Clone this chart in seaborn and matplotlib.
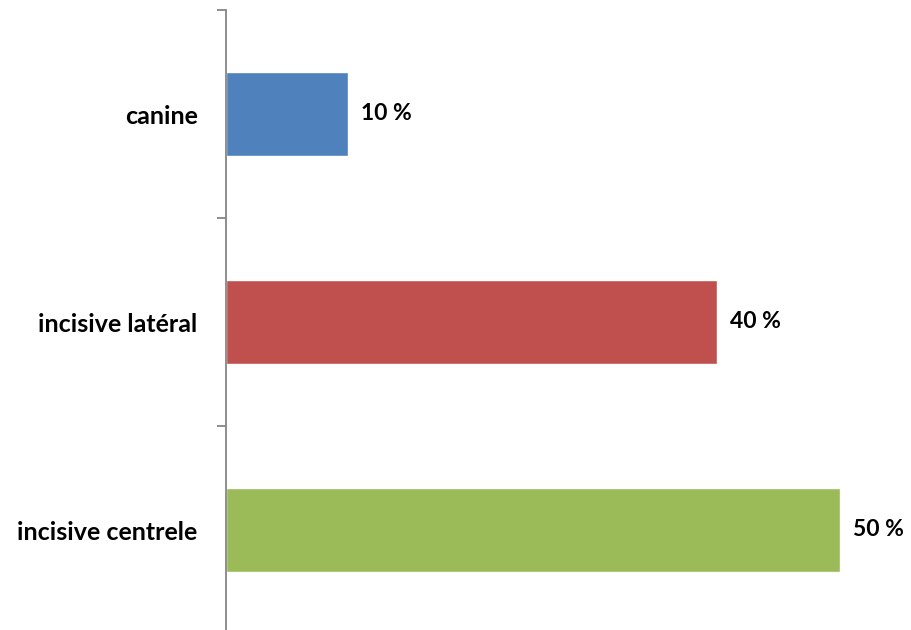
import matplotlib
matplotlib.use("Agg")
import matplotlib.pyplot as plt
import seaborn as sns
import pandas as pd

categories = ["canine", "incisive latéral", "incisive centrele"]
percentages = [10, 40, 50]
bar_colors = ["#4F81BD", "#C0504D", "#9BBB59"]

sns.set_theme(style="white")
plt.rcParams["font.family"] = ["Lato", "DejaVu Sans"]

df = pd.DataFrame({"category": categories, "value": percentages})

W, H = 911, 630
fig = plt.figure(figsize=(W / 100, H / 100), dpi=100)
left_px, top_px, bottom_px = 225.5, 10, 634
px_per_unit = 12.28
xmax = (W - left_px) / px_per_unit
ax = fig.add_axes([left_px / W, (H - bottom_px) / H,
                   (W - left_px) / W, (bottom_px - top_px) / H])

sns.barplot(data=df, x="value", y="category", hue="category",
            palette=bar_colors, orient="h", width=0.404,
            legend=False, ax=ax, saturation=1)

for container in ax.containers:
    ax.bar_label(container, labels=[f"{v:g} %" for v in container.datavalues],
                 padding=9.5, fontsize=16.5, fontweight="bold", color="black")

ax.set_xlim(0, xmax)
ax.set_ylim(2.5, -0.5)
ax.set_xlabel("")
ax.set_ylabel("")
ax.set_xticks([])

for side in ["top", "right", "bottom"]:
    ax.spines[side].set_visible(False)
ax.spines["left"].set_color("#868686")
ax.spines["left"].set_linewidth(1.3)

ax.set_yticks([0, 1, 2])
ax.set_yticklabels(categories, fontsize=18, fontweight="bold", color="black")
ax.tick_params(axis="y", which="major", length=0, pad=20)
ax.set_yticks([-0.5, 0.5, 1.5, 2.5], minor=True)
ax.tick_params(axis="y", which="minor", length=6.5, width=1.3,
               color="#868686", left=True)

fig.savefig("out.png", dpi=100)
